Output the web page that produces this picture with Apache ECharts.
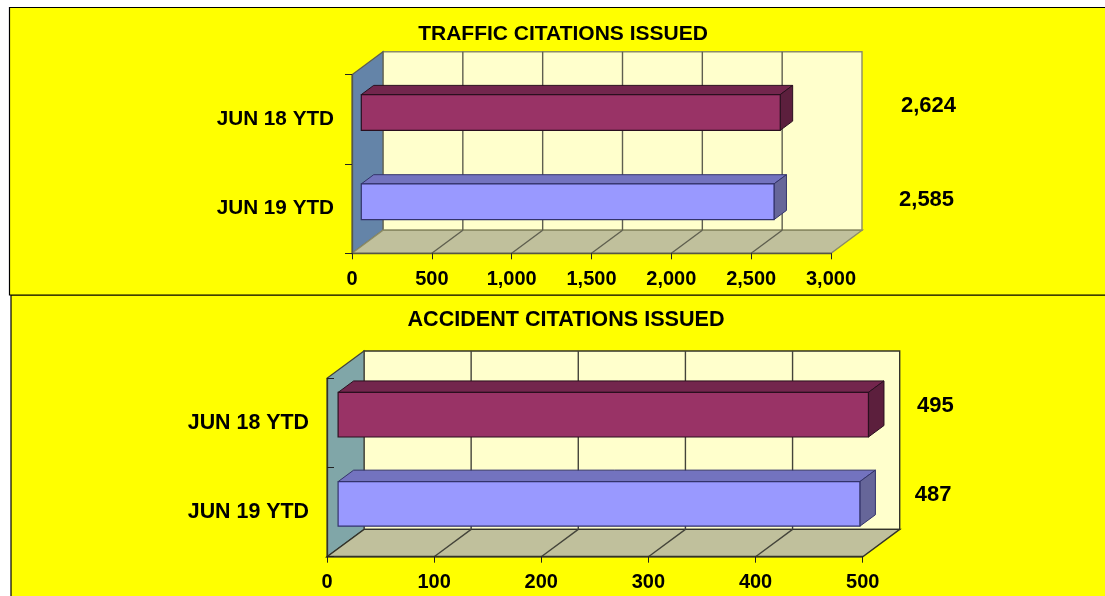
<!DOCTYPE html>
<html><head><meta charset="utf-8">
<style>html,body{margin:0;padding:0;background:#fff}#c{width:1105px;height:596px}</style>
<script src="https://cdn.jsdelivr.net/npm/echarts@6/dist/echarts.min.js"></script>
</head><body><div id="c"></div>
<script>
const categories = ['JUN 18 YTD', 'JUN 19 YTD'];
const trafficValues = [2624, 2585];
const accidentValues = [495, 487];
const trafficTicks = [0, 500, 1000, 1500, 2000, 2500, 3000];
const accidentTicks = [0, 100, 200, 300, 400, 500];
const trafficTitle = 'TRAFFIC CITATIONS ISSUED';
const accidentTitle = 'ACCIDENT CITATIONS ISSUED';

const FONT = '"Liberation Sans", Arial, sans-serif';
const barFaces = [
  {front: '#993366', top: '#73264D', side: '#5C1F3D', line: '#2a0f1e'},
  {front: '#9999FF', top: '#7373BF', side: '#666699', line: '#33336b'}
];
const panels = [
  {left: 352, width: 479, top: 74.7, height: 178.6, dx: 31, dy: 23, barRatio: 0.4, start: 0.3, end: 0.7, catFont: 20.7,
   wallSide: '#6484A8', lineColor: '#5f5f4f', wallEdge: '#8c8c66', axisColor: '#555548', tickInside: false,
   labelDx: [130, 134.3], labelDy: [-13.4, -8.7], ticks: trafficTicks, values: trafficValues, max: 3000, interval: 500},
  {left: 327, width: 535.7, top: 378.3, height: 178.4, dx: 37, dy: 27.3, barRatio: 0.5, start: 0.3, end: 0.72, catFont: 21.4,
   wallSide: '#80A6A8', lineColor: '#44443a', wallEdge: '#33332a', axisColor: '#33332a', tickInside: true,
   labelDx: [59.6, 66], labelDy: [-17, -17], ticks: accidentTicks, values: accidentValues, max: 500, interval: 100}
];

function poly(points, fill, stroke, w) {
  return {type: 'polygon', shape: {points}, style: {fill, stroke, lineWidth: w || 1}};
}
function seg(a, b, stroke, w) {
  return {type: 'line', shape: {x1: a[0], y1: a[1], x2: b[0], y2: b[1]}, style: {stroke, lineWidth: w || 1.4, fill: null}};
}
function wallRenderer(p) {
  return function (params, api) {
    const cs = params.coordSys;
    const x0 = cs.x, x1 = cs.x + cs.width, y0 = cs.y, y1 = cs.y + cs.height;
    const children = [];
    if (params.dataIndex === 0) {
      children.push(poly([[x0 + p.dx, y0 - p.dy], [x1 + p.dx, y0 - p.dy], [x1 + p.dx, y1 - p.dy], [x0 + p.dx, y1 - p.dy]], '#FFFFCC', p.wallEdge, 1.4));
      children.push(poly([[x0, y0], [x0 + p.dx, y0 - p.dy], [x0 + p.dx, y1 - p.dy], [x0, y1]], p.wallSide, p.lineColor, 1.2));
      children.push(poly([[x0, y1], [x0 + p.dx, y1 - p.dy], [x1 + p.dx, y1 - p.dy], [x1, y1]], '#C0C09C', p.wallEdge, 1.4));
    }
    const x = api.coord([api.value(0), 0])[0];
    if (params.dataIndex > 0 && x < x1 - 0.5) {
      children.push(seg([x + p.dx, y0 - p.dy], [x + p.dx, y1 - p.dy], p.lineColor));
      children.push(seg([x + p.dx, y1 - p.dy], [x, y1], p.lineColor));
    }
    return {type: 'group', children};
  };
}
function barRenderer(p) {
  return function (params, api) {
    const i = params.dataIndex;
    const v = api.value(0), c = api.value(1);
    const zero = api.coord([0, c]), end = api.coord([v, c]);
    const band = api.size([0, 1])[1];
    const h = band * p.barRatio;
    const sx = p.dx * p.start, sy = p.dy * p.start;
    const ox = p.dx * (p.end - p.start), oy = p.dy * (p.end - p.start);
    const L = zero[0] + sx, R = end[0] + sx, T = zero[1] - sy - h / 2, B = T + h;
    const f = barFaces[i];
    return {type: 'group', children: [
      poly([[L, T], [L + ox, T - oy], [R + ox, T - oy], [R, T]], f.top, f.line, 1),
      poly([[R, T], [R + ox, T - oy], [R + ox, B - oy], [R, B]], f.side, f.line, 1),
      poly([[L, T], [R, T], [R, B], [L, B]], f.front, f.line, 1.2),
      {type: 'text', style: {
        x: end[0] + p.labelDx[i], y: end[1] + p.labelDy[i], text: v.toLocaleString('en-US'),
        font: 'bold 22px ' + FONT, fill: '#000', align: 'left', verticalAlign: 'middle'}}
    ]};
  };
}

const grids = [], xAxes = [], yAxes = [], series = [];
panels.forEach(function (p, k) {
  grids.push({left: p.left, top: p.top, width: p.width, height: p.height, containLabel: false, show: false});
  xAxes.push({type: 'value', gridIndex: k, min: 0, max: p.max, interval: p.interval, z: 5,
    axisLine: {show: true, onZero: false, lineStyle: {color: p.axisColor, width: 1.3}},
    axisTick: {show: true, length: 6, lineStyle: {color: '#222', width: 1}},
    splitLine: {show: false},
    axisLabel: {margin: 16, color: '#000', fontFamily: FONT, fontWeight: 'bold', fontSize: 20, hideOverlap: false,
      formatter: function (v) { return v.toLocaleString('en-US'); }}});
  yAxes.push({type: 'category', gridIndex: k, data: categories, inverse: true, z: 5,
    axisLine: {show: true, onZero: false, lineStyle: {color: p.axisColor, width: 1.3}},
    axisTick: {show: true, inside: p.tickInside, length: 7, lineStyle: {color: '#222', width: 1}},
    splitLine: {show: false},
    axisLabel: {margin: 18, color: '#000', fontFamily: FONT, fontWeight: 'bold', fontSize: p.catFont, interval: 0, padding: [4, 0, 0, 0]}});
  series.push({type: 'custom', name: 'plot' + k, xAxisIndex: k, yAxisIndex: k, z: 1, silent: true,
    data: p.ticks.map(function (t) { return [t]; }), encode: {x: 0},
    renderItem: wallRenderer(p), clip: false});
  series.push({type: 'custom', name: 'bars' + k, xAxisIndex: k, yAxisIndex: k, z: 3, silent: true,
    data: p.values.map(function (v, i) { return [v, categories[i]]; }), encode: {x: 0, y: 1},
    renderItem: barRenderer(p), clip: false});
});

const chart = echarts.init(document.getElementById('c'), null, {renderer: 'canvas'});
chart.setOption({
  animation: false,
  backgroundColor: '#ffffff',
  tooltip: {show: false},
  title: [
    {text: trafficTitle, left: 563, top: 34, textAlign: 'center', textVerticalAlign: 'middle', padding: 0,
     textStyle: {fontFamily: FONT, fontWeight: 'bold', fontSize: 21, color: '#000'}},
    {text: accidentTitle, left: 566, top: 320, textAlign: 'center', textVerticalAlign: 'middle', padding: 0,
     textStyle: {fontFamily: FONT, fontWeight: 'bold', fontSize: 21.6, color: '#000'}}
  ],
  graphic: [
    {type: 'rect', z: -2, silent: true, shape: {x: 11, y: 295, width: 1110, height: 320},
     style: {fill: '#FFFF00', stroke: '#000', lineWidth: 1.2}},
    {type: 'rect', z: -1, silent: true, shape: {x: 9.5, y: 7.5, width: 1110, height: 287.5},
     style: {fill: '#FFFF00', stroke: '#000', lineWidth: 1.2}}
  ],
  grid: grids, xAxis: xAxes, yAxis: yAxes, series: series
});
</script></body></html>
